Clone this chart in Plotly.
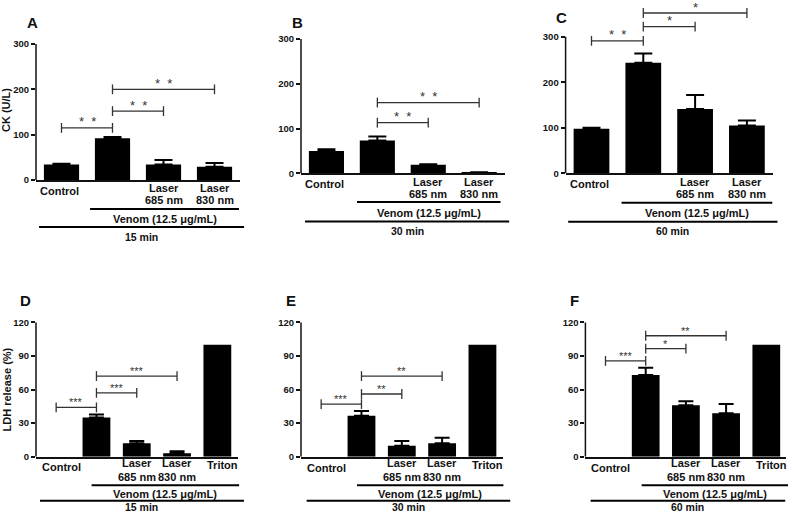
import plotly.graph_objects as go

W, H = 794, 513
FONT = "Liberation Sans, Arial, sans-serif"
INK = "#111111"
GREY = "#333333"

# ---------------- data ----------------
ck_labels = [["Control"], [], ["Laser", "685 nm"], ["Laser", "830 nm"]]
ldh_labels = [["Control"], [], ["Laser", "685 nm"], ["Laser", "830 nm"], ["Triton"]]

ck_15 = [34, 92, 34, 29]
ck_15_err = [2, 3, 10, 8.5]
ck_30 = [50, 73, 19, 2]
ck_30_err = [4, 9, 1, 0.5]
ck_60 = [98, 243, 141, 105]
ck_60_err = [2, 20, 31, 11]

ldh_15 = [0, 35, 12, 3, 100]
ldh_15_err = [None, 2.7, 2, 1.8, None]
ldh_30 = [0, 36.6, 9.8, 11.9, 100]
ldh_30_err = [None, 4.2, 4.2, 5, None]
ldh_60 = [0, 73, 46, 38.7, 100]
ldh_60_err = [None, 6.5, 3.5, 8.3, None]

# significance brackets: (from index, to index, height, label)
sig_A = [(0, 1, 115, "*  *"), (1, 2, 152, "*  *"), (1, 3, 200, "*  *")]
sig_B = [(1, 2, 113, "*  *"), (1, 3, 158, "*  *")]
sig_C = [(0, 1, 291, "*  *"), (1, 2, 322, "*"), (1, 3, 352, "*")]
sig_D = [(0, 1, 44, "***"), (1, 2, 57, "***"), (1, 3, 72, "***")]
sig_E = [(0, 1, 47, "***"), (1, 2, 56, "**"), (1, 3, 72, "**")]
sig_F = [(0, 1, 85.5, "***"), (1, 2, 96.5, "*"), (1, 3, 108, "**")]

time_labels = ["15 min", "30 min", "60 min", "15 min", "30 min", "60 min"]
panel_letters = ["A", "B", "C", "D", "E", "F"]
venom_label = "Venom (12.5 μg/mL)"

# ---------------- layout spec (pixels) ----------------
panels = [
    dict(vals=ck_15, err=ck_15_err, labels=ck_labels, sig=sig_A, yticks=[0, 100, 200, 300], ymax=300, ytop=300,
         left=36, right=240, y0=180, ymaxpx=44, venom=(0.56, 3.48), time=(-0.44, 3.58),
         lab1=188, lab2=200, ctrl=191, edge_shift=-2.5,
         vline=209, vtext=219, tline=227, ttext=237, letter=(32, 23), cap=9, star_big=True),
    dict(vals=ck_30, err=ck_30_err, labels=ck_labels, sig=sig_B, yticks=[0, 100, 200, 300], ymax=300, ytop=300,
         left=301, right=504.6, y0=173.3, ymaxpx=39, venom=(0.60, 3.42), time=(-0.42, 3.59),
         lab1=182, lab2=193.5, ctrl=184, edge_shift=-2,
         vline=202, vtext=213, tline=221.5, ttext=231, letter=(297, 23), cap=9, star_big=True),
    dict(vals=ck_60, err=ck_60_err, labels=ck_labels, sig=sig_C, yticks=[0, 100, 200, 300], ymax=300, ytop=360,
         left=565.6, right=772.8, y0=173.3, ymaxpx=36.7, venom=(0.58, 3.49), time=(-0.45, 3.59),
         lab1=181.7, lab2=194, ctrl=184.3, edge_shift=-2,
         vline=202.7, vtext=213.3, tline=221.7, ttext=231, letter=(561, 17), cap=9, star_big=True),
    dict(vals=ldh_15, err=ldh_15_err, labels=ldh_labels, sig=sig_D, yticks=[0, 30, 60, 90, 120], ymax=120, ytop=120,
         left=36, right=237.5, y0=456.7, ymaxpx=322.3, venom=(0.88, 4.54), time=(-0.40, 4.66),
         lab1=463.3, lab2=476.7, ctrl=467, edge_shift=5,
         vline=485.3, vtext=494.3, tline=500.7, ttext=507, letter=(25, 300), cap=7.5, star_big=False),
    dict(vals=ldh_30, err=ldh_30_err, labels=ldh_labels, sig=sig_E, yticks=[0, 30, 60, 90, 120], ymax=120, ytop=120,
         left=301, right=502.6, y0=456.7, ymaxpx=322.3, venom=(0.89, 4.52), time=(-0.36, 4.69),
         lab1=463.3, lab2=477.2, ctrl=468, edge_shift=5,
         vline=485.3, vtext=494.3, tline=500.7, ttext=507, letter=(290.5, 300), cap=7.5, star_big=False),
    dict(vals=ldh_60, err=ldh_60_err, labels=ldh_labels, sig=sig_F, yticks=[0, 30, 60, 90, 120], ymax=120, ytop=120,
         left=585.4, right=786.4, y0=456.7, ymaxpx=322.3, venom=(0.90, 4.54), time=(-0.37, 4.47),
         lab1=463.3, lab2=476.7, ctrl=467.7, edge_shift=5,
         vline=485.3, vtext=494.3, tline=500.7, ttext=507, letter=(574, 300), cap=7.5, star_big=False),
]

fig = go.Figure()
shapes = []
annotations = []
layout = {}

for k, p in enumerate(panels, start=1):
    xid = "x" if k == 1 else f"x{k}"
    yid = "y" if k == 1 else f"y{k}"
    xkey = "xaxis" if k == 1 else f"xaxis{k}"
    ykey = "yaxis" if k == 1 else f"yaxis{k}"
    n = len(p["vals"])
    xs = list(range(n))

    # pixel position of the range top
    px_per_unit = (p["y0"] - p["ymaxpx"]) / p["ymax"]
    top_px = p["y0"] - p["ytop"] * px_per_unit

    fig.add_trace(go.Bar(
        x=xs, y=p["vals"], xaxis=xid, yaxis=yid, width=0.69,
        marker=dict(color="black", line=dict(width=0)),
        showlegend=False, hoverinfo="skip",
    ))
    # upper error bars (only where an error exists)
    ex = [x for x, e in zip(xs, p["err"]) if e is not None]
    ey = [v for v, e in zip(p["vals"], p["err"]) if e is not None]
    ee = [e for e in p["err"] if e is not None]
    fig.add_trace(go.Scatter(
        x=ex, y=ey, xaxis=xid, yaxis=yid, mode="markers", marker=dict(size=1, opacity=0),
        error_y=dict(type="data", array=ee, arrayminus=[0] * len(ee), symmetric=False,
                     color="black", thickness=2, width=p["cap"]),
        showlegend=False, hoverinfo="skip",
    ))

    # significance brackets
    for (i, j, h, lab) in p["sig"]:
        fig.add_trace(go.Scatter(
            x=[i, j], y=[h, h], xaxis=xid, yaxis=yid, mode="lines+markers",
            line=dict(color=GREY, width=1.3),
            marker=dict(symbol="line-ns", size=7, line=dict(width=1.3, color=GREY)),
            cliponaxis=False, showlegend=False, hoverinfo="skip",
        ))
        annotations.append(dict(
            x=(i + j) / 2, y=h, xref=xid, yref=yid, text=lab, showarrow=False,
            yanchor="middle", yshift=6 if p["star_big"] else 5,
            font=dict(family=FONT, size=13 if p["star_big"] else 11, color=GREY),
        ))

    # category labels
    for i, lines in enumerate(p["labels"]):
        if not lines:
            continue
        shift = p["edge_shift"] if (i == 0 or (i == n - 1 and len(lines) == 1)) else 0
        if len(lines) == 1:
            ys = [p["ctrl"] if i == 0 else (p["lab1"] + p["lab2"]) / 2 - 5]
        else:
            ys = [p["lab1"], p["lab2"]]
        for txt, ypx in zip(lines, ys):
            annotations.append(dict(x=i, y=1 - ypx / H, xref=xid, yref="paper", text=txt, showarrow=False,
                                    xanchor="center", yanchor="middle", xshift=shift,
                                    font=dict(family=FONT, size=11, color=INK, weight="bold")))

    layout[xkey] = dict(
        domain=[p["left"] / W, p["right"] / W], anchor=yid, range=[-0.5, n - 0.5],
        showline=True, linewidth=1.5, linecolor=INK, showgrid=False, zeroline=False,
        tickmode="array", tickvals=xs, showticklabels=False, ticks="",
        fixedrange=True, automargin=False,
    )
    layout[ykey] = dict(
        domain=[1 - p["y0"] / H, 1 - top_px / H], anchor=xid, range=[0, p["ytop"]],
        showline=False, showgrid=False, zeroline=False,
        tickmode="array", tickvals=p["yticks"], ticks="outside", ticklen=4, tickwidth=1.5,
        tickcolor=INK, tickfont=dict(family=FONT, size=9.5, color=INK, weight="bold"),
        fixedrange=True, automargin=False,
    )

    # y axis line up to the last tick
    shapes.append(dict(type="line", xref=f"{xid} domain", yref=yid, x0=0, x1=0, y0=0, y1=p["ymax"],
                       line=dict(color=INK, width=1.5)))

    def frac(c):
        return (c + 0.5) / n

    # venom line & label
    v0, v1 = p["venom"]
    shapes.append(dict(type="line", xref=f"{xid} domain", yref="paper", x0=frac(v0), x1=frac(v1),
                       y0=1 - p["vline"] / H, y1=1 - p["vline"] / H, line=dict(color="black", width=2)))
    annotations.append(dict(x=(frac(v0) + frac(v1)) / 2, y=1 - p["vtext"] / H, xref=f"{xid} domain", yref="paper",
                            text=venom_label, showarrow=False, yanchor="middle",
                            font=dict(family=FONT, size=11, color=INK, weight="bold")))
    # time line & label
    t0, t1 = p["time"]
    shapes.append(dict(type="line", xref=f"{xid} domain", yref="paper", x0=frac(t0), x1=frac(t1),
                       y0=1 - p["tline"] / H, y1=1 - p["tline"] / H, line=dict(color="black", width=2)))
    annotations.append(dict(x=(frac(t0) + frac(t1)) / 2, y=1 - p["ttext"] / H, xref=f"{xid} domain", yref="paper",
                            text=time_labels[k - 1], showarrow=False, yanchor="middle",
                            font=dict(family=FONT, size=10.5, color=INK, weight="bold")))
    # panel letter
    lx, ly = p["letter"]
    annotations.append(dict(x=lx / W, y=1 - ly / H, xref="paper", yref="paper", text=panel_letters[k - 1],
                            showarrow=False, xanchor="center", yanchor="middle",
                            font=dict(family=FONT, size=15, color=INK, weight="bold")))

# y-axis titles
annotations.append(dict(x=6 / W, y=1 - 110 / H, xref="paper", yref="paper", text="CK (U/L)", textangle=-90,
                        showarrow=False, xanchor="center", yanchor="middle",
                        font=dict(family=FONT, size=11, color=INK, weight="bold")))
annotations.append(dict(x=6 / W, y=1 - 389.5 / H, xref="paper", yref="paper", text="LDH release (%)", textangle=-90,
                        showarrow=False, xanchor="center", yanchor="middle",
                        font=dict(family=FONT, size=11, color=INK, weight="bold")))

fig.update_layout(
    width=W, height=H, margin=dict(l=0, r=0, t=0, b=0, autoexpand=False),
    paper_bgcolor="white", plot_bgcolor="white",
    shapes=shapes, annotations=annotations, bargap=0.3, showlegend=False,
    **layout,
)

fig.write_html("out.html", config={"displayModeBar": False},
               post_script="document.body.style.margin='0';document.body.style.padding='0';"
                           "document.body.style.overflow='hidden';")
